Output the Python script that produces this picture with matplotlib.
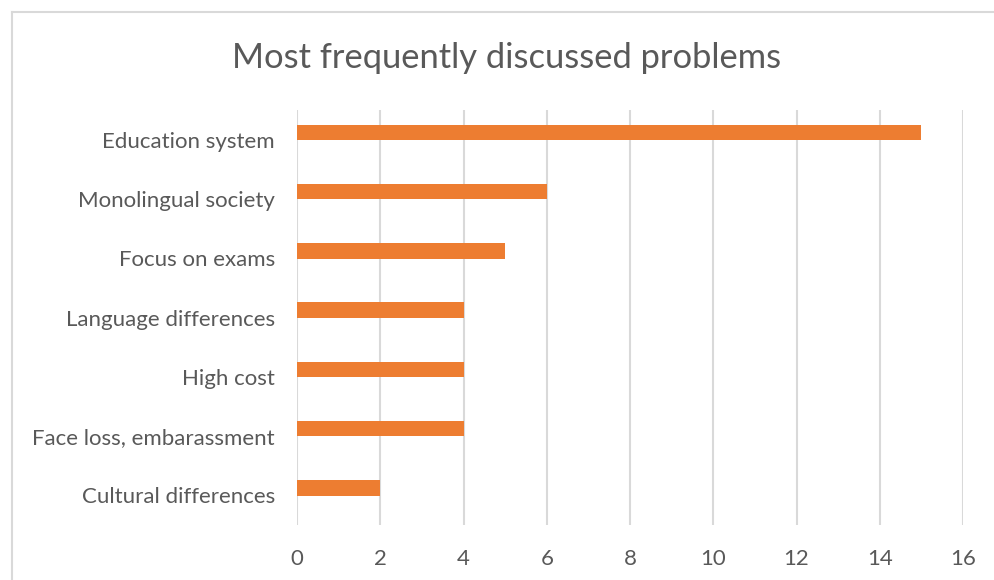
import matplotlib.pyplot as plt
from matplotlib.lines import Line2D

categories = ['Education system', 'Monolingual society', 'Focus on exams',
              'Language differences', 'High cost', 'Face loss, embarassment',
              'Cultural differences']
counts = [15, 6, 5, 4, 4, 4, 2]
x_ticks = [0, 2, 4, 6, 8, 10, 12, 14, 16]

text_color = '#595959'
grid_color = '#d9d9d9'
bar_color = '#ED7D31'

plt.rcParams['font.family'] = ['Lato', 'DejaVu Sans']

fig = plt.figure(figsize=(9.94, 5.8), dpi=100)
ax = fig.add_axes([297 / 994, 1 - 525 / 580, 666 / 994, 415 / 580])

ypos = list(range(len(categories)))
# bar sits a little above the category centre (Excel cluster offset)
bar_pos = [p - 0.125 for p in ypos]
ax.barh(bar_pos, counts, height=0.26, color=bar_color, zorder=3)
ax.set_ylim(len(categories) - 0.5, -0.5)
ax.set_yticks(ypos)
ax.set_yticklabels(categories, fontsize=16, color=text_color)
ax.set_xlim(0, 16)
ax.set_xticks(x_ticks)
ax.set_xticklabels([str(t) for t in x_ticks], fontsize=16, color=text_color)
ax.tick_params(length=0)
ax.tick_params(axis='y', pad=16)
ax.tick_params(axis='x', pad=17)
ax.grid(axis='x', color=grid_color, linewidth=1.5, zorder=0)
for s in ax.spines.values():
    s.set_visible(False)

fig.text(0.51, 1 - 68 / 580, 'Most frequently discussed problems', ha='center',
         va='baseline', fontsize=24.8, color=text_color)

# chart border (cropped at right and bottom)
fig.add_artist(Line2D([12 / 994, 1], [1 - 12 / 580, 1 - 12 / 580],
                      color=grid_color, linewidth=1.5))
fig.add_artist(Line2D([12 / 994, 12 / 994], [0, 1 - 12 / 580],
                      color=grid_color, linewidth=1.5))

fig.savefig('out.png', dpi=100)
